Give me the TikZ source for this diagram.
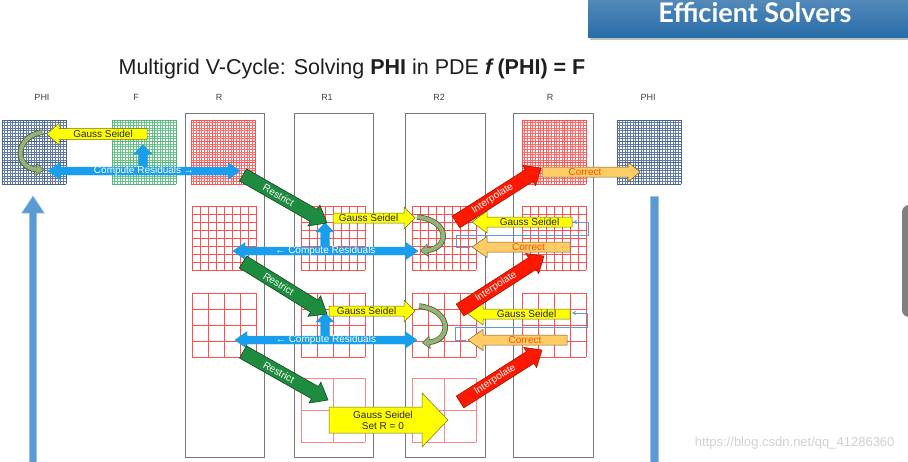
\documentclass[tikz,border=0pt]{standalone}
\usepackage{fontspec}
\setmainfont{Liberation Sans}
\newfontfamily\headfont{Lato}
\usepackage{tikz}
\usetikzlibrary{calc,arrows.meta}
\definecolor{hdrblue}{RGB}{40,108,168}
\definecolor{resblue}{RGB}{24,158,236}
\definecolor{gsyellow}{RGB}{255,255,0}
\definecolor{gsyellowdk}{RGB}{110,110,40}
\definecolor{corrfill}{RGB}{255,204,102}
\definecolor{corrtext}{RGB}{255,80,0}
\definecolor{corrdk}{RGB}{120,95,50}
\definecolor{rstgreen}{RGB}{30,140,62}
\definecolor{rstgreendk}{RGB}{20,70,35}
\definecolor{intred}{RGB}{255,24,0}
\definecolor{intreddk}{RGB}{150,20,0}
\definecolor{gsolive}{RGB}{150,178,120}
\definecolor{gsolivedk}{RGB}{75,95,50}
\definecolor{phiblue}{RGB}{70,100,150}
\definecolor{fgreen}{RGB}{80,185,120}
\definecolor{rred}{RGB}{255,80,80}
\definecolor{colgray}{RGB}{120,120,120}
\definecolor{labelgray}{RGB}{64,64,64}
\definecolor{vbarblue}{RGB}{91,155,213}
\tikzset{
  colbox/.style={draw=colgray, line width=0.8pt},
  collabel/.style={font=\fontsize{9}{10}\selectfont, text=labelgray},
  finegrid/.style={draw=#1, line width=0.35pt},
  coarsegrid/.style={draw=#1, line width=0.65pt},
  gsarrow/.style={fill=gsyellow, draw=gsyellowdk, line width=0.5pt},
  resarrow/.style={fill=resblue, draw=resblue},
  restrictarrow/.style={fill=rstgreen, draw=rstgreendk, line width=0.6pt},
  interparrow/.style={fill=intred, draw=intreddk, line width=0.5pt},
  corrarrow/.style={fill=corrfill, draw=corrdk, line width=0.5pt},
  vbararrow/.style={fill=vbarblue, draw=vbarblue!60!white, line width=0.5pt},
  atext/.style={font=\fontsize{10}{11}\selectfont, inner sep=0pt, text=black!85},
  wtext/.style={atext, text=white},
  ctext/.style={atext, text=corrtext},
  looppath/.style={draw=vbarblue, line width=0.8pt, -{Stealth[length=4pt,width=4pt]}},
}
% square grid of 64x64: x, y, cells, style
\newcommand\mgrid[4]{%
  \foreach \k in {0,...,#3}{
    \draw[#4] ({#1+64*\k/#3},#2) -- ({#1+64*\k/#3},{#2+64});
    \draw[#4] (#1,{#2+64*\k/#3}) -- ({#1+64},{#2+64*\k/#3});
  }}
% block arrow: style, tail, tip, half body, half head, head length, text style, text
\newcommand\blockarrow[8]{%
  \coordinate (ba-n) at ($(#3)!#6pt!(#2)$);
  \filldraw[#1] ($(#2)!#4pt!90:(#3)$) -- ($(ba-n)!#4pt!-90:(#2)$)
    -- ($(ba-n)!#5pt!-90:(#2)$) -- (#3) -- ($(ba-n)!#5pt!90:(#2)$)
    -- ($(ba-n)!#4pt!90:(#2)$) -- ($(#2)!#4pt!-90:(#3)$) -- cycle;
  \path (#2) -- (ba-n) node[midway, sloped, #7] {#8};
}
% double block arrow: style, end, end, half body, half head, head length, text style, text
\newcommand\dblarrow[8]{%
  \coordinate (da-m) at ($(#2)!#6pt!(#3)$);
  \coordinate (da-n) at ($(#3)!#6pt!(#2)$);
  \filldraw[#1] (#2) -- ($(da-m)!#5pt!90:(#3)$) -- ($(da-m)!#4pt!90:(#3)$)
    -- ($(da-n)!#4pt!-90:(#2)$) -- ($(da-n)!#5pt!-90:(#2)$) -- (#3)
    -- ($(da-n)!#5pt!90:(#2)$) -- ($(da-n)!#4pt!90:(#2)$)
    -- ($(da-m)!#4pt!-90:(#3)$) -- ($(da-m)!#5pt!-90:(#3)$) -- cycle;
  \path (da-m) -- (da-n) node[midway, sloped, #7] {#8};
}
% curled smoothing arrow
\newcommand\curlarrow[4]{%
  \draw[draw=gsolivedk, line width=5.5pt, -{Triangle[length=8pt,width=13pt]}] (#1) .. controls (#2) and (#3) .. (#4);
  \draw[draw=gsolive, line width=4pt, -{Triangle[length=6.5pt,width=10pt]}, shorten >=0.8pt] (#1) .. controls (#2) and (#3) .. (#4);
}

\begin{document}
\begin{tikzpicture}[x=1pt, y=-1pt]
  \useasboundingbox (0,0) rectangle (908,461);
  \clip (0,0) rectangle (908,461);
  \fill[white] (0,0) rectangle (908,461);

  % header
  \fill[black!25] (590,37) rectangle (908,40);
  \shade[top color=hdrblue!80!white, bottom color=hdrblue] (588,0) rectangle (908,37);
  \node[font=\headfont\bfseries\fontsize{27}{29}\selectfont, text=white] (hdr) at (755,13) {Efficient Solvers};
  \fill[black!50, rounded corners=7pt] (902,205) rectangle (925,317);

  % title
  \node[font=\fontsize{21.5}{24}\selectfont, text=black!88] (title) at (352,69)
    {Multigrid V-Cycle: Solving \textbf{PHI} in PDE \textbf{\textit{f}\,(PHI) = F}};

  % column labels
  \node[collabel] (lphi) at (42,97) {PHI};
  \node[collabel] (lf) at (136,97) {F};
  \node[collabel] (lr) at (219,97) {R};
  \node[collabel] (lr1) at (327,97) {R1};
  \node[collabel] (lr2) at (439,97) {R2};
  \node[collabel] (lrr) at (550,97) {R};
  \node[collabel] (lphir) at (648,97) {PHI};

  % columns
  \draw[colbox] (185,113) rectangle (264,457);
  \draw[colbox] (294,113) rectangle (373,457);
  \draw[colbox] (405,113) rectangle (485,457);
  \draw[colbox] (513,113) rectangle (593,457);

  % fine level
  \mgrid{2}{120}{24}{finegrid=phiblue!85}   \mgrid{2}{120}{3}{coarsegrid=phiblue}
  \mgrid{112}{120}{24}{finegrid=fgreen!85}  \mgrid{112}{120}{3}{coarsegrid=fgreen}
  \mgrid{191}{120}{24}{finegrid=rred!85}    \mgrid{191}{120}{3}{coarsegrid=rred}
  \mgrid{522}{120}{24}{finegrid=rred!85}    \mgrid{522}{120}{3}{coarsegrid=rred}
  \mgrid{617}{120}{24}{finegrid=phiblue!85} \mgrid{617}{120}{3}{coarsegrid=phiblue}
  % coarser levels
  \foreach \gx in {192,301,412,522} \mgrid{\gx}{206}{8}{coarsegrid=rred};
  \foreach \gx in {192,301,412,522} \mgrid{\gx}{293}{4}{coarsegrid=rred};
  \foreach \gx in {301,412} \mgrid{\gx}{378}{2}{coarsegrid=rred!70};

  % vertical bars
  \coordinate (vA1) at (33,475); \coordinate (vA2) at (33,196);
  \blockarrow{vbararrow}{vA1}{vA2}{3.7}{11.3}{17}{}{}
  \filldraw[vbararrow] (650,196) rectangle (658,470);

  % arrow ends
  \coordinate (gsA1) at (147,134); \coordinate (gsA2) at (47,134);
  \coordinate (crA1) at (48,171);  \coordinate (crA2) at (240,171);
  \coordinate (upA1) at (143,171); \coordinate (upA2) at (143,145);
  \coordinate (rsA1) at (243,175); \coordinate (rsA2) at (327,223);
  \coordinate (ipA1) at (456,222); \coordinate (ipA2) at (541,168);
  \coordinate (coA1) at (542,172); \coordinate (coA2) at (640,172);
  \coordinate (gsB1) at (333,218); \coordinate (gsB2) at (415,218);
  \coordinate (gsBr1) at (572,222); \coordinate (gsBr2) at (472,222);
  \coordinate (coB1) at (570,247); \coordinate (coB2) at (472,247);
  \coordinate (crB1) at (233,251); \coordinate (crB2) at (418,251);
  \coordinate (upB1) at (325,251); \coordinate (upB2) at (325,223);
  \coordinate (rsB1) at (243,262); \coordinate (rsB2) at (327,314);
  \coordinate (ipB1) at (460,310); \coordinate (ipB2) at (544,256);
  \coordinate (gsC1) at (329,311); \coordinate (gsC2) at (415,311);
  \coordinate (gsCr1) at (570,314); \coordinate (gsCr2) at (468,314);
  \coordinate (coC1) at (567,340); \coordinate (coC2) at (468,340);
  \coordinate (crC1) at (235,340); \coordinate (crC2) at (417,340);
  \coordinate (upC1) at (325,340); \coordinate (upC2) at (325,313);
  \coordinate (rsC1) at (243,352); \coordinate (rsC2) at (328,400);
  \coordinate (ipC1) at (460,402); \coordinate (ipC2) at (542,350);
  \coordinate (gsD1) at (329,420); \coordinate (gsD2) at (448,420);

  % residual loops
  \draw[looppath] (470,247) -| (456,235) -- (588,235) |- (573,222);
  \draw[looppath] (466,340) -| (455,327) -- (587,327) |- (572,313);

  % fine level arrows
  \blockarrow{gsarrow}{gsA1}{gsA2}{5.5}{11}{12}{atext}{Gauss Seidel}
  \curlarrow{43,132}{14,136}{14,168}{44,170}
  \blockarrow{resarrow}{upA1}{upA2}{4.5}{9}{9}{}{}
  \dblarrow{resarrow}{crA1}{crA2}{4}{8.5}{12}{wtext}{Compute Residuals →}
  \blockarrow{corrarrow}{coA1}{coA2}{5}{10}{12}{ctext}{Correct}

  % second level
  \blockarrow{gsarrow}{gsB1}{gsB2}{5}{11}{11}{atext}{Gauss Seidel}
  \curlarrow{417,217}{450,220}{450,248}{420,251}
  \blockarrow{resarrow}{upB1}{upB2}{4.5}{9}{9}{}{}
  \dblarrow{resarrow}{crB1}{crB2}{4}{8.5}{12}{wtext}{← Compute Residuals}
  \blockarrow{gsarrow}{gsBr1}{gsBr2}{5}{11}{15}{atext}{Gauss Seidel}
  \blockarrow{corrarrow}{coB1}{coB2}{5}{10.5}{15}{ctext}{Correct}

  % third level
  \blockarrow{gsarrow}{gsC1}{gsC2}{5}{11}{11}{atext}{Gauss Seidel}
  \curlarrow{419,306}{452,310}{452,340}{422,343}
  \blockarrow{resarrow}{upC1}{upC2}{4.5}{9}{9}{}{}
  \dblarrow{resarrow}{crC1}{crC2}{4}{8.5}{12}{wtext}{← Compute Residuals}
  \blockarrow{gsarrow}{gsCr1}{gsCr2}{5}{11}{15}{atext}{Gauss Seidel}
  \blockarrow{corrarrow}{coC1}{coC2}{5}{10.5}{15}{ctext}{Correct}

  % coarsest level
  \blockarrow{gsarrow}{gsD1}{gsD2}{13}{27}{26}{atext, align=center, pos=0.58}{Gauss Seidel\\Set R = 0}

  % restrict / interpolate
  \blockarrow{restrictarrow}{rsA1}{rsA2}{7}{12}{15}{wtext}{Restrict}
  \blockarrow{restrictarrow}{rsB1}{rsB2}{7}{12}{15}{wtext}{Restrict}
  \blockarrow{restrictarrow}{rsC1}{rsC2}{7}{12}{15}{wtext}{Restrict}
  \blockarrow{interparrow}{ipA1}{ipA2}{7}{12}{14}{wtext}{Interpolate}
  \blockarrow{interparrow}{ipB1}{ipB2}{7}{12}{14}{wtext}{Interpolate}
  \blockarrow{interparrow}{ipC1}{ipC2}{7}{12}{14}{wtext}{Interpolate}

  % watermark
  \node[font=\fontsize{13}{14}\selectfont, text=black!18, anchor=east] (wm) at (898,443) {https://blog.csdn.net/qq\_41286360};
\end{tikzpicture}
\end{document}
